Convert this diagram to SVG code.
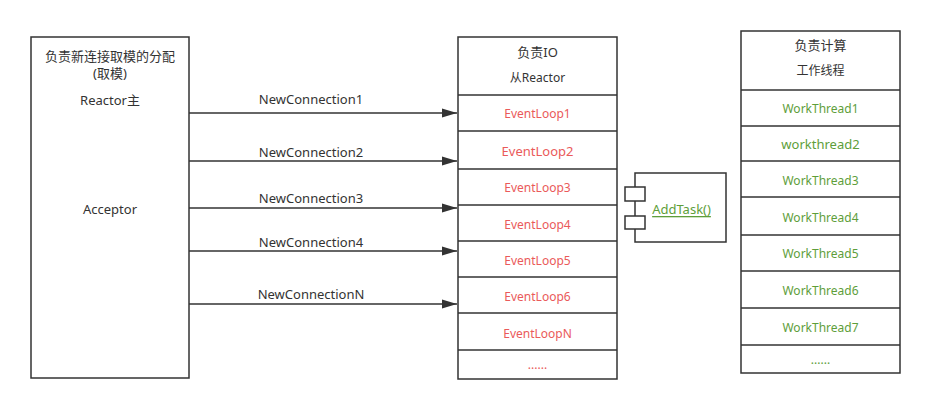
<svg xmlns="http://www.w3.org/2000/svg" width="925" height="408" viewBox="0 0 925 408">
<style>
.box{fill:#fff;stroke:#333;stroke-width:1.5}
.t{font-family:"Noto Sans","Noto Sans CJK SC",sans-serif;font-size:13px;fill:#333;text-anchor:middle;dominant-baseline:central}
.s{font-size:12px}
.red{fill:#EA5A5A;font-size:12px}
.grn{fill:#5E9E3A;font-size:12px}
.big{font-size:13px}
.conn{stroke:#333;stroke-width:1.5;fill:none;marker-end:url(#ah)}
</style>
<defs>
<marker id="ah" markerUnits="userSpaceOnUse" markerWidth="16" markerHeight="10" refX="15" refY="5" orient="auto">
<path d="M0,0.5 L15,5 L0,9.5 Z" fill="#333"/>
</marker>
</defs>
<rect width="925" height="408" fill="#fff"/>

<g id="reactor-main">
<rect class="box" x="31" y="37" width="158" height="341"/>
<text class="t" x="110" y="56">负责新连接取模的分配</text>
<text class="t" x="110" y="73">(取模)</text>
<text class="t" x="110" y="100">Reactor主</text>
<text class="t" x="110" y="209">Acceptor</text>
</g>

<g id="sub-reactor">
<rect class="box" x="458" y="37" width="159" height="342"/>
<line class="box" x1="458" y1="95" x2="617" y2="95"/>
<line class="box" x1="458" y1="131" x2="617" y2="131"/>
<line class="box" x1="458" y1="169" x2="617" y2="169"/>
<line class="box" x1="458" y1="205" x2="617" y2="205"/>
<line class="box" x1="458" y1="241" x2="617" y2="241"/>
<line class="box" x1="458" y1="277" x2="617" y2="277"/>
<line class="box" x1="458" y1="313" x2="617" y2="313"/>
<line class="box" x1="458" y1="350" x2="617" y2="350"/>
<text class="t" x="537.5" y="52">负责IO</text>
<text class="t s" x="537.5" y="77">从Reactor</text>
<text class="t red" x="537.5" y="113">EventLoop1</text>
<text class="t red big" x="537.5" y="151">EventLoop2</text>
<text class="t red" x="537.5" y="187">EventLoop3</text>
<text class="t red" x="537.5" y="224">EventLoop4</text>
<text class="t red" x="537.5" y="260">EventLoop5</text>
<text class="t red" x="537.5" y="296">EventLoop6</text>
<text class="t red" x="537.5" y="333">EventLoopN</text>
<text class="t red" x="537.5" y="364">......</text>
</g>

<g id="addtask">
<rect class="box" x="635" y="173" width="91" height="69"/>
<rect class="box" x="625" y="187" width="20" height="14"/>
<rect class="box" x="625" y="216" width="20" height="13"/>
<text class="t" x="681.5" y="209" style="fill:#5E9E3A;text-decoration:underline">AddTask()</text>
</g>

<g id="workers">
<rect class="box" x="741" y="31" width="159" height="342"/>
<line class="box" x1="741" y1="90" x2="900" y2="90"/>
<line class="box" x1="741" y1="126" x2="900" y2="126"/>
<line class="box" x1="741" y1="161" x2="900" y2="161"/>
<line class="box" x1="741" y1="197" x2="900" y2="197"/>
<line class="box" x1="741" y1="235" x2="900" y2="235"/>
<line class="box" x1="741" y1="271" x2="900" y2="271"/>
<line class="box" x1="741" y1="308" x2="900" y2="308"/>
<line class="box" x1="741" y1="345" x2="900" y2="345"/>
<text class="t" x="820.5" y="45">负责计算</text>
<text class="t s" x="820.5" y="70">工作线程</text>
<text class="t grn" x="820.5" y="108">WorkThread1</text>
<text class="t grn big" x="820.5" y="144">workthread2</text>
<text class="t grn" x="820.5" y="180">WorkThread3</text>
<text class="t grn" x="820.5" y="217">WorkThread4</text>
<text class="t grn" x="820.5" y="253">WorkThread5</text>
<text class="t grn" x="820.5" y="290">WorkThread6</text>
<text class="t grn" x="820.5" y="327">WorkThread7</text>
<text class="t grn" x="820.5" y="359">......</text>
</g>

<g id="connectors">
<line class="conn" x1="189" y1="113" x2="457" y2="113"/>
<line class="conn" x1="189" y1="161" x2="457" y2="161"/>
<line class="conn" x1="189" y1="208" x2="457" y2="208"/>
<line class="conn" x1="189" y1="251" x2="457" y2="251"/>
<line class="conn" x1="189" y1="304" x2="457" y2="304"/>
<text class="t" x="311" y="99">NewConnection1</text>
<text class="t" x="311" y="152">NewConnection2</text>
<text class="t" x="311" y="198">NewConnection3</text>
<text class="t" x="311" y="242">NewConnection4</text>
<text class="t" x="311" y="294">NewConnectionN</text>
</g>
</svg>
